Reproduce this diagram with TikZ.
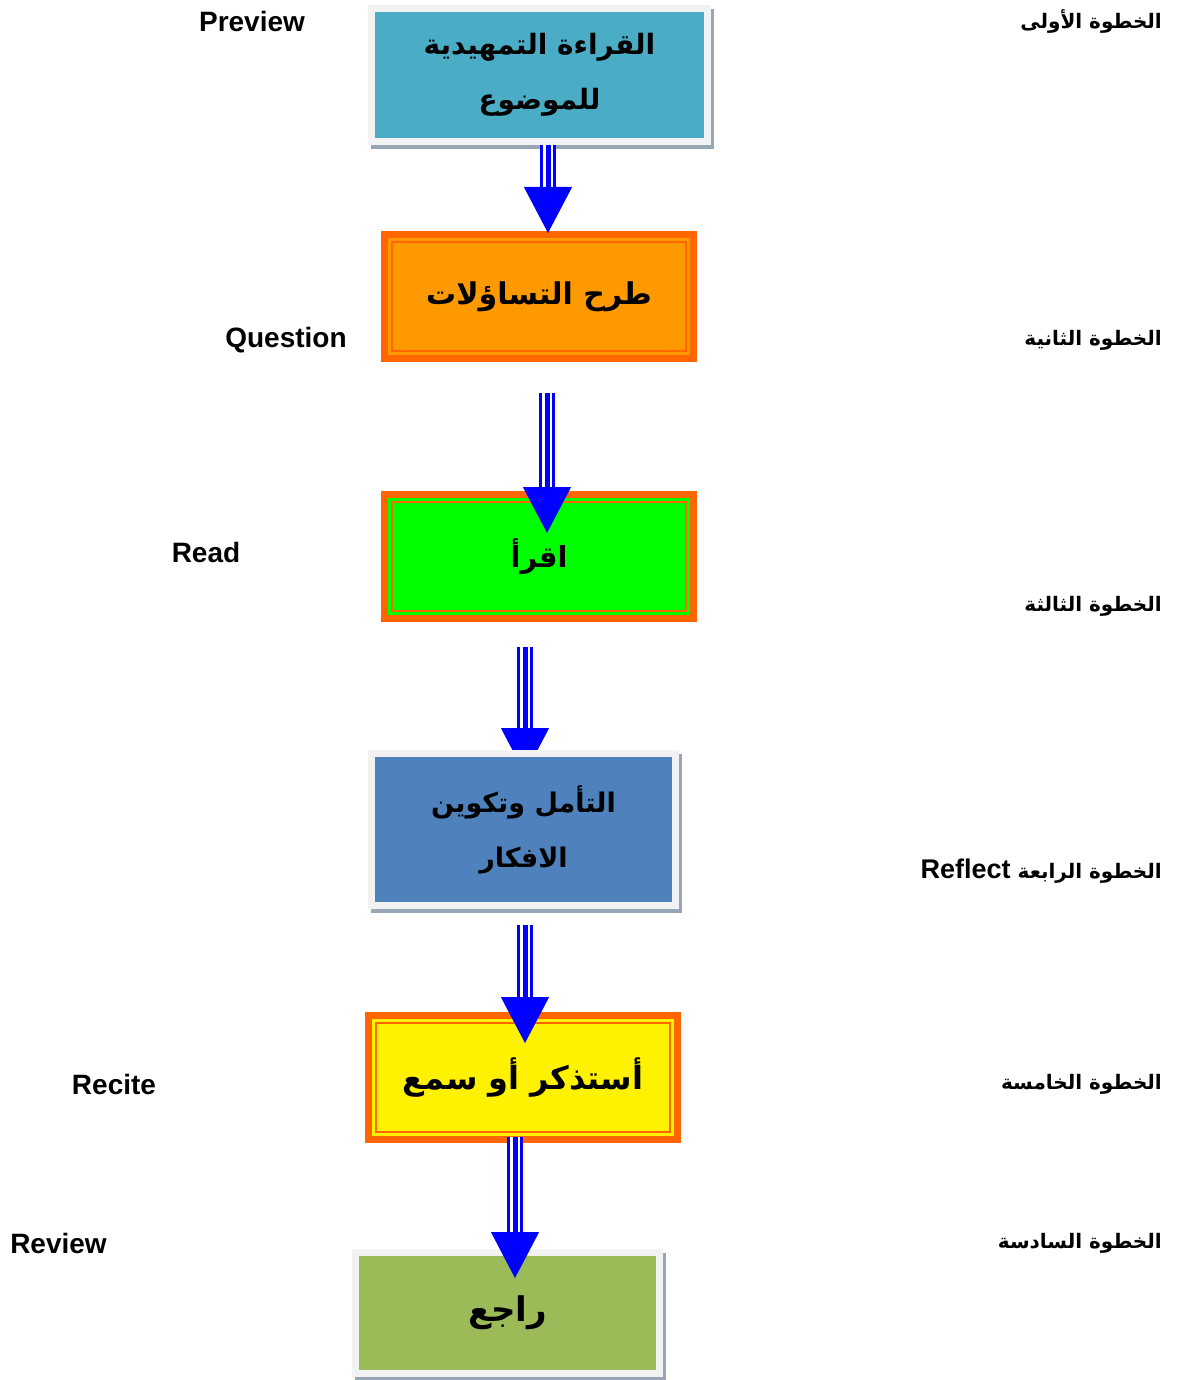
\documentclass[tikz,border=0pt]{standalone}
\usepackage{fontspec}
\setmainfont{Liberation Sans}
\newfontfamily\arabicfont[Script=Arabic]{DejaVu Sans}
\TeXXeTstate=1
\usepackage{tikz}
\usetikzlibrary{arrows.meta,shadows,backgrounds}
\definecolor{prevblue}{HTML}{4BACC6}
\definecolor{reflblue}{HTML}{4F81BD}
\definecolor{revgreen}{HTML}{9BBB59}
\definecolor{qorange}{HTML}{FF9900}
\definecolor{framered}{HTML}{FF6600}
\definecolor{framegray}{HTML}{F2F2F2}
\definecolor{shadegray}{RGB}{150,166,180}
\newcommand{\boxfont}[1]{\arabicfont\bfseries\fontsize{#1}{55}\selectfont}
\tikzset{%
    graybox/.style={draw=framegray, line width=7pt, minimum width=304pt, minimum height=121pt,
        inner sep=0pt, align=center, font=\boxfont{28},
        general shadow={shadow xshift=3pt, shadow yshift=-4pt, fill=shadegray, draw=shadegray}},
    redbox/.style={draw=framered, line width=7pt, minimum width=309pt, minimum height=124pt,
        inner sep=0pt, font=\boxfont{30}},
    flow/.style={preaction={draw=blue, line width=16.5pt, shorten >=40pt},
        draw=white, line width=10.5pt, shorten >=40pt,
        postaction={draw=blue, line width=5pt, shorten >=0pt,
            -{Triangle[width=48pt,length=46pt,line width=1pt]}}},
    lbl/.style={font=\bfseries\fontsize{28}{32}\selectfont, inner sep=0pt},
    steplbl/.style={font=\arabicfont\bfseries\fontsize{20}{24}\selectfont, anchor=east, inner sep=0pt}
}

\begin{document}
\begin{tikzpicture}[x=1pt,y=-1pt]
  \useasboundingbox (0,0) rectangle (1180,1380);
  \node[graybox, fill=prevblue, minimum width=336pt, minimum height=133pt] (prev) at (539.5,75)
    {\beginR القراءة التمهيدية\endR\\\beginR للموضوع\endR};
  \node[redbox, fill=qorange] (qst) at (539,296.5) {\beginR طرح التساؤلات\endR};
  \node[redbox, fill=green, font=\boxfont{29}] (rd) at (539,556.5) {\beginR اقرأ\endR};
  \node[graybox, fill=reflblue, minimum height=152pt, font=\boxfont{27}] (rfl) at (523.5,829.5)
    {\beginR التأمل وتكوين\endR\\\beginR الافكار\endR};
  \node[redbox, fill=yellow, font=\boxfont{32}] (rct) at (523,1077.5) {\beginR أستذكر أو سمع\endR};
  \node[graybox, fill=revgreen, font=\boxfont{34}] (rvw) at (507.5,1313) {\beginR راجع\endR};
  \foreach \n in {qst,rd,rct}
    \draw[framered, line width=2pt] ([shift={(11,11)}]\n.north west) rectangle ([shift={(-11,-11)}]\n.south east);

  \draw[flow] ([xshift=8.5pt]prev.south) -- ([xshift=9pt,yshift=-2pt]qst.north);
  \draw[flow] ([xshift=8pt,yshift=-31pt]qst.south) -- ([xshift=8pt,yshift=-42pt]rd.north);
  \begin{scope}[on background layer]
    \draw[flow] ([xshift=-14pt,yshift=-25pt]rd.south) -- ([xshift=1.5pt,yshift=-24pt]rfl.north);
  \end{scope}
  \draw[flow] ([xshift=1.5pt,yshift=-16pt]rfl.south) -- ([xshift=2pt,yshift=-31pt]rct.north);
  \draw[flow] ([xshift=-8pt,yshift=6pt]rct.south) -- ([xshift=7.5pt,yshift=-29pt]rvw.north);

  \node[lbl] (tprev) at (252,21) {Preview};
  \node[lbl] (tqst) at (286,340) {Question};
  \node[lbl] (trd) at (206,552) {Read};
  \node[lbl] (trct) at (114,1084) {Recite};
  \node[lbl] (trvw) at (58.5,1243) {Review};

  \node[steplbl] (s1) at (1162,22) {\beginR الخطوة الأولى\endR};
  \node[steplbl] (s2) at (1162,340) {\beginR الخطوة الثانية\endR};
  \node[steplbl] (s3) at (1162,606) {\beginR الخطوة الثالثة\endR};
  \node[steplbl] (s4) at (1162,871) {{\rmfamily\fontsize{27}{30}\selectfont Reflect} \beginR الخطوة الرابعة\endR};
  \node[steplbl] (s5) at (1162,1084) {\beginR الخطوة الخامسة\endR};
  \node[steplbl] (s6) at (1162,1243) {\beginR الخطوة السادسة\endR};
\end{tikzpicture}
\end{document}
